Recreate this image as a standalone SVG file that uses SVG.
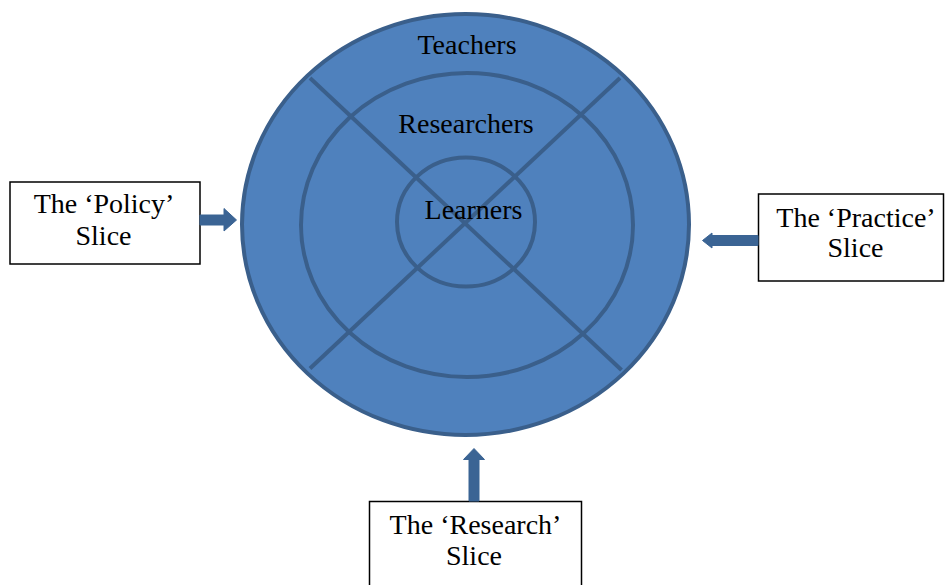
<svg xmlns="http://www.w3.org/2000/svg" width="945" height="585" viewBox="0 0 945 585">
  <style>
    .ring { fill: none; stroke: #3a5f8b; stroke-width: 4; }
    .div { stroke: #3a5f8b; stroke-width: 4; }
    .lbl { font-family: "Liberation Serif", "Times New Roman", serif; font-size: 28px; fill: #000; text-anchor: middle; }
    .box { fill: #fff; stroke: #000; stroke-width: 1.5; }
    .arr { fill: #3b6494; stroke: #3b6494; stroke-width: 1; stroke-linejoin: round; }
  </style>
  <rect width="945" height="585" fill="#fff"/>
  <g id="circle">
    <ellipse cx="465.5" cy="224.5" rx="223.5" ry="210.5" fill="#4f81bd" stroke="#3a5f8b" stroke-width="4"/>
    <ellipse class="ring" cx="467" cy="225" rx="166" ry="152"/>
    <ellipse class="ring" cx="466" cy="222" rx="69" ry="64.5"/>
    <line class="div" x1="310" y1="78" x2="621.5" y2="370"/>
    <line class="div" x1="620" y1="78" x2="310" y2="368.5"/>
    <text class="lbl" x="467" y="54">Teachers</text>
    <text class="lbl" x="466" y="133">Researchers</text>
    <text class="lbl" x="473.5" y="219">Learners</text>
  </g>
  <g id="policy">
    <rect class="box" x="10" y="182" width="190" height="82"/>
    <text class="lbl" x="104" y="213">The ‘Policy’</text>
    <text class="lbl" x="103.5" y="245">Slice</text>
  </g>
  <g id="practice">
    <rect class="box" x="758.5" y="194" width="185" height="87"/>
    <text class="lbl" x="856" y="227">The ‘Practice’</text>
    <text class="lbl" x="855.5" y="257">Slice</text>
  </g>
  <g id="research">
    <rect class="box" x="369.5" y="501.5" width="212" height="90"/>
    <text class="lbl" x="475.5" y="534">The ‘Research’</text>
    <text class="lbl" x="474" y="565">Slice</text>
  </g>
  <g id="connectors">
    <path class="arr" d="M200,215 L224,215 L224,208.5 L236.5,220 L224,231 L224,225 L200,225 Z"/>
    <path class="arr" d="M758,235.5 L712,235.5 L712,233 L702.5,240.5 L712,248 L712,245.5 L758,245.5 Z"/>
    <path class="arr" d="M469,501 L469,459.5 L463.5,459.5 L474,448.5 L484.5,459.5 L479,459.5 L479,501 Z"/>
  </g>
</svg>
